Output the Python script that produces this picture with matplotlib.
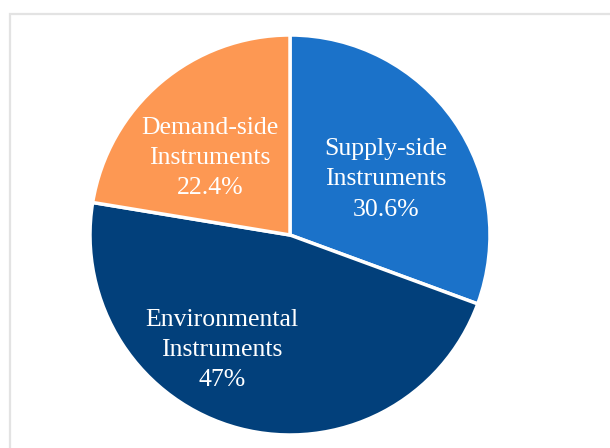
import matplotlib
matplotlib.use("Agg")
import matplotlib.pyplot as plt
from matplotlib.patches import Rectangle

categories = ["Supply-side\nInstruments", "Environmental\nInstruments", "Demand-side\nInstruments"]
values = [30.6, 47.0, 22.4]
value_labels = ["30.6%", "47%", "22.4%"]
colors = ["#1b72c9", "#02407b", "#fd9853"]
label_pos = [(0.48, 0.28), (-0.34, -0.575), (-0.40, 0.385)]

W, H = 610, 448
fig = plt.figure(figsize=(W / 100, H / 100), dpi=100)
fig.patch.set_facecolor("white")

# light frame
fig.add_artist(Rectangle((9.5 / W, -0.1), 1.2, 1 - 14.5 / H + 0.1,
                         transform=fig.transFigure, fill=False,
                         edgecolor="#e3e3e3", linewidth=1.6))

cx, cy, r = 290, 235, 200
ax = fig.add_axes([(cx - r) / W, (H - cy - r) / H, 2 * r / W, 2 * r / H])

ax.pie(values, colors=colors, startangle=90, counterclock=False, radius=1,
       wedgeprops=dict(edgecolor="white", linewidth=2.5), frame=True)
ax.set_xlim(-1, 1)
ax.set_ylim(-1, 1)
ax.axis("off")

for cat, vl, (x, y) in zip(categories, value_labels, label_pos):
    ax.text(x, y, f"{cat}\n{vl}", ha="center", va="center", color="white",
            fontsize=18.5, family="Liberation Serif", linespacing=1.5)

fig.savefig("out.png", dpi=100, facecolor="white")
